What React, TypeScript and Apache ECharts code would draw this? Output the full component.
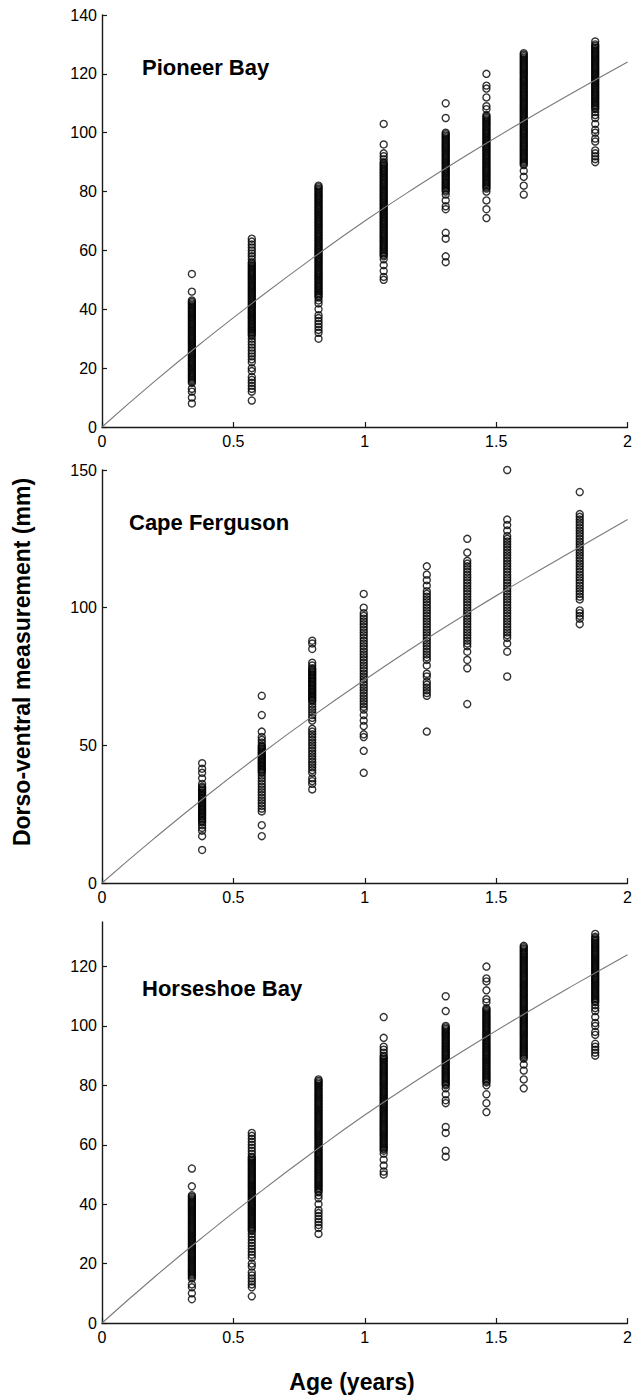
import React, { useEffect, useRef } from "react";
import * as echarts from "echarts";

// ---- Data ----
const panelTitles = ["Pioneer Bay", "Cape Ferguson", "Horseshoe Bay"];

// x positions (age, years) of the sampling columns
const pioneerAges = [0.342, 0.57, 0.824, 1.072, 1.308, 1.463, 1.605, 1.877];
const capeAges = [0.381, 0.608, 0.8, 0.996, 1.236, 1.39, 1.542, 1.818];

// dorso-ventral measurements (mm) per column
const pioneerValues = [
  [8, 10, 12, 13, 15, 15.5, 16, 16.5, 17, 17.5, 18, 18.5, 19, 19.5, 20, 20.5, 21, 21.5, 22, 22.5, 23, 23.5, 24, 24.5, 25, 25.5, 26, 26.5, 27, 27.5, 28, 28.5, 29, 29.5, 30, 30.5, 31, 31.5, 32, 32.5, 33, 33.5, 34, 34.5, 35, 35.5, 36, 36.5, 37, 37.5, 38, 38.5, 39, 39.5, 40, 40.5, 41, 41.5, 42, 42.5, 43, 46, 52],
  [9, 12, 13, 14, 15, 16, 17, 19, 20, 22, 23, 24, 25, 26, 27, 28, 29, 30, 31, 31.5, 32, 32.5, 33, 33.5, 34, 34.5, 35, 35.5, 36, 36.5, 37, 37.5, 38, 38.5, 39, 39.5, 40, 40.5, 41, 41.5, 42, 42.5, 43, 43.5, 44, 44.5, 45, 45.5, 46, 46.5, 47, 47.5, 48, 48.5, 49, 49.5, 50, 50.5, 51, 51.5, 52, 52.5, 53, 53.5, 54, 54.5, 55, 55.5, 56, 57, 58, 59, 60, 61, 62, 63, 64],
  [30, 32, 33, 34, 35, 36, 37, 38, 40, 42, 43, 44, 44.5, 45, 45.5, 46, 46.5, 47, 47.5, 48, 48.5, 49, 49.5, 50, 50.5, 51, 51.5, 52, 52.5, 53, 53.5, 54, 54.5, 55, 55.5, 56, 56.5, 57, 57.5, 58, 58.5, 59, 59.5, 60, 60.5, 61, 61.5, 62, 62.5, 63, 63.5, 64, 64.5, 65, 65.5, 66, 66.5, 67, 67.5, 68, 68.5, 69, 69.5, 70, 70.5, 71, 71.5, 72, 72.5, 73, 73.5, 74, 74.5, 75, 75.5, 76, 76.5, 77, 77.5, 78, 78.5, 79, 79.5, 80, 80.5, 81, 81.5, 82],
  [50, 51, 53, 55, 57, 58, 58.5, 59, 59.5, 60, 60.5, 61, 61.5, 62, 62.5, 63, 63.5, 64, 64.5, 65, 65.5, 66, 66.5, 67, 67.5, 68, 68.5, 69, 69.5, 70, 70.5, 71, 71.5, 72, 72.5, 73, 73.5, 74, 74.5, 75, 75.5, 76, 76.5, 77, 77.5, 78, 78.5, 79, 79.5, 80, 80.5, 81, 81.5, 82, 82.5, 83, 83.5, 84, 84.5, 85, 85.5, 86, 86.5, 87, 87.5, 88, 88.5, 89, 89.5, 90, 91, 92, 93, 96, 103],
  [56, 58, 64, 66, 74, 75, 77, 79, 80, 80.5, 81, 81.5, 82, 82.5, 83, 83.5, 84, 84.5, 85, 85.5, 86, 86.5, 87, 87.5, 88, 88.5, 89, 89.5, 90, 90.5, 91, 91.5, 92, 92.5, 93, 93.5, 94, 94.5, 95, 95.5, 96, 96.5, 97, 97.5, 98, 98.5, 99, 99.5, 100, 105, 110],
  [71, 74, 77, 80, 81, 81.5, 82, 82.5, 83, 83.5, 84, 84.5, 85, 85.5, 86, 86.5, 87, 87.5, 88, 88.5, 89, 89.5, 90, 90.5, 91, 91.5, 92, 92.5, 93, 93.5, 94, 94.5, 95, 95.5, 96, 96.5, 97, 97.5, 98, 98.5, 99, 99.5, 100, 100.5, 101, 101.5, 102, 102.5, 103, 103.5, 104, 104.5, 105, 105.5, 106, 108, 109, 112, 115, 116, 120],
  [79, 82, 85, 87, 89, 89.5, 90, 90.5, 91, 91.5, 92, 92.5, 93, 93.5, 94, 94.5, 95, 95.5, 96, 96.5, 97, 97.5, 98, 98.5, 99, 99.5, 100, 100.5, 101, 101.5, 102, 102.5, 103, 103.5, 104, 104.5, 105, 105.5, 106, 106.5, 107, 107.5, 108, 108.5, 109, 109.5, 110, 110.5, 111, 111.5, 112, 112.5, 113, 113.5, 114, 114.5, 115, 115.5, 116, 116.5, 117, 117.5, 118, 118.5, 119, 119.5, 120, 120.5, 121, 121.5, 122, 122.5, 123, 123.5, 124, 124.5, 125, 125.5, 126, 126.5, 127],
  [90, 91, 92, 93, 94, 97, 98, 100, 101, 103, 105, 106, 107, 108, 108.5, 109, 109.5, 110, 110.5, 111, 111.5, 112, 112.5, 113, 113.5, 114, 114.5, 115, 115.5, 116, 116.5, 117, 117.5, 118, 118.5, 119, 119.5, 120, 120.5, 121, 121.5, 122, 122.5, 123, 123.5, 124, 124.5, 125, 125.5, 126, 126.5, 127, 127.5, 128, 128.5, 129, 129.5, 130, 131],
];

const capeValues = [
  [12, 17, 19, 20, 21, 22, 22.5, 23, 23.5, 24, 24.5, 25, 25.5, 26, 26.5, 27, 27.5, 28, 28.5, 29, 29.5, 30, 30.5, 31, 31.5, 32, 32.5, 33, 33.5, 34, 34.5, 35, 36, 38, 40, 41.5, 43.5],
  [17, 21, 26, 27, 28, 29, 30, 31, 32, 33, 34, 35, 36, 37, 38, 39, 40, 40.5, 41, 41.5, 42, 42.5, 43, 43.5, 44, 44.5, 45, 45.5, 46, 46.5, 47, 47.5, 48, 48.5, 49, 49.5, 50, 51, 52, 53, 55, 61, 68],
  [34, 36, 37, 38, 40, 41, 42, 43, 44, 45, 46, 47, 48, 49, 50, 51, 52, 53, 54, 55, 56, 59, 60, 61, 62, 63, 64, 65, 66, 66.5, 67, 67.5, 68, 68.5, 69, 69.5, 70, 70.5, 71, 71.5, 72, 72.5, 73, 73.5, 74, 74.5, 75, 75.5, 76, 76.5, 77, 77.5, 78, 79, 80, 85, 87, 88],
  [40, 48, 53, 54, 57, 59, 61, 63, 64, 65, 66, 67, 68, 69, 70, 71, 72, 73, 74, 75, 76, 77, 78, 79, 80, 81, 82, 83, 84, 85, 86, 87, 88, 89, 90, 91, 92, 93, 94, 95, 96, 97, 98, 100, 105],
  [55, 68, 69, 70, 71, 72, 73, 75, 76, 79, 81, 82, 83, 84, 85, 86, 87, 88, 89, 90, 91, 92, 93, 94, 95, 96, 97, 98, 99, 100, 101, 102, 103, 104, 105, 106, 108, 110, 112, 115],
  [65, 78, 81, 84, 86, 87, 88, 89, 90, 91, 92, 93, 94, 95, 96, 97, 98, 99, 100, 101, 102, 103, 104, 105, 106, 107, 108, 109, 110, 111, 112, 113, 114, 115, 116, 117, 120, 125],
  [75, 84, 87, 89, 90, 91, 92, 93, 94, 95, 96, 97, 98, 99, 100, 101, 102, 103, 104, 105, 106, 107, 108, 109, 110, 111, 112, 113, 114, 115, 116, 117, 118, 119, 120, 121, 122, 123, 124, 125, 126, 128, 130, 132, 150],
  [94, 96, 97, 98, 99, 103, 104, 105, 106, 107, 108, 109, 110, 111, 112, 113, 114, 115, 116, 117, 118, 119, 120, 121, 122, 123, 124, 125, 126, 127, 128, 129, 130, 131, 132, 133, 134, 142],
];

// fitted growth curves
const curveAges = [0, 0.2, 0.4, 0.6, 0.8, 1.0, 1.2, 1.4, 1.6, 1.8, 2.0];
const pioneerFit = [0, 15.5, 30.1, 44.0, 57.3, 70.0, 81.8, 93.0, 103.7, 114.0, 124.0];
const capeFit = [0, 16.3, 31.8, 46.5, 60.5, 73.8, 86.5, 98.5, 110.0, 121.0, 132.0];

// axis ticks
const xTicks = [0, 0.5, 1, 1.5, 2];
const yMax = [140, 150, 135];
const yIntervals = [20, 50, 20];
const horseshoeYTicks = [0, 20, 40, 60, 80, 100, 120];

const FONT = '"Liberation Sans", Arial, Helvetica, sans-serif';

function scatterData(ages: number[], values: number[][]) {
  const out: number[][] = [];
  ages.forEach((a, i) => values[i].forEach((v) => out.push([a, v])));
  return out;
}

function curveData(fit: number[]) {
  return curveAges.map((a, i) => [a, fit[i]]);
}

export default function App() {
  const ref = useRef<HTMLDivElement>(null);

  useEffect(() => {
    if (!ref.current) return;
    const chart = echarts.init(ref.current, undefined, { renderer: "svg" });

    const grids = [
      { left: 102, top: 15, width: 527, height: 412 },
      { left: 102, top: 470, width: 527, height: 413 },
      { left: 102, top: 922, width: 527, height: 401 },
    ];

    const axisLine = { show: true, lineStyle: { color: "#1a1a1a", width: 1.4 } };

    const xAxes = grids.map((_, i) => ({
      type: "value",
      gridIndex: i,
      min: xTicks[0],
      max: xTicks[xTicks.length - 1],
      interval: 0.5,
      axisLine,
      axisTick: { show: true, inside: true, length: 5, lineStyle: { color: "#1a1a1a", width: 1.2 } },
      axisLabel: { color: "#000", fontSize: 16, fontFamily: FONT, margin: 6 },
      splitLine: { show: false },
    }));

    const yAxes = grids.map((_, i) => {
      const base: any = {
        type: "value",
        gridIndex: i,
        min: 0,
        max: yMax[i],
        interval: yIntervals[i],
        axisLine,
        axisTick: { show: true, inside: true, length: 5, lineStyle: { color: "#1a1a1a", width: 1.2 } },
        axisLabel: { color: "#000", fontSize: 16, fontFamily: FONT, margin: 5 },
        splitLine: { show: false },
      };
      if (i === 2) {
        base.axisTick.customValues = horseshoeYTicks;
        base.axisLabel.customValues = horseshoeYTicks;
      }
      return base;
    });

    const panels = [
      { ages: pioneerAges, values: pioneerValues, fit: pioneerFit },
      { ages: capeAges, values: capeValues, fit: capeFit },
      { ages: pioneerAges, values: pioneerValues, fit: pioneerFit },
    ];

    const series: any[] = [];
    panels.forEach((p, i) => {
      series.push({
        type: "scatter",
        xAxisIndex: i,
        yAxisIndex: i,
        data: scatterData(p.ages, p.values),
        symbol: "circle",
        symbolSize: 7,
        itemStyle: { color: "rgba(0,0,0,0)", borderColor: "#000", borderWidth: 1.4 },
        silent: true,
        z: 2,
      });
      series.push({
        type: "line",
        xAxisIndex: i,
        yAxisIndex: i,
        data: curveData(p.fit),
        smooth: true,
        showSymbol: false,
        symbol: "none",
        lineStyle: { color: "#7a7a7a", width: 1.1 },
        silent: true,
        z: 3,
      });
    });

    const titleY = [67, 522, 988];
    const titleX = [142, 129, 142];

    const graphic: any[] = panelTitles.map((t, i) => ({
      type: "text",
      x: titleX[i],
      y: titleY[i],
      style: {
        text: t,
        font: `bold 22px ${FONT}`,
        fill: "#000",
        verticalAlign: "middle",
        align: "left",
      },
    }));
    graphic.push({
      type: "text",
      x: 22,
      y: 662,
      rotation: Math.PI / 2,
      style: {
        text: "Dorso-ventral measurement (mm)",
        font: `bold 23px ${FONT}`,
        fill: "#000",
        align: "center",
        verticalAlign: "middle",
      },
    });
    graphic.push({
      type: "text",
      x: 352,
      y: 1382,
      style: {
        text: "Age (years)",
        font: `bold 23px ${FONT}`,
        fill: "#000",
        align: "center",
        verticalAlign: "middle",
      },
    });

    chart.setOption({
      animation: false,
      backgroundColor: "#fff",
      grid: grids,
      xAxis: xAxes,
      yAxis: yAxes,
      series,
      graphic,
    });

    return () => chart.dispose();
  }, []);

  return (
    <div
      ref={ref}
      style={{ position: "absolute", left: 0, top: 0, width: 635, height: 1397 }}
    />
  );
}
